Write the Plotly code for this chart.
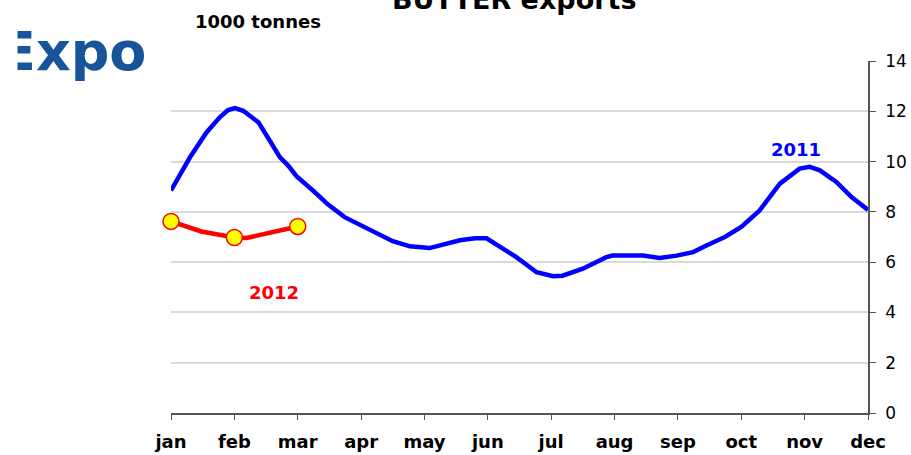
import plotly.graph_objects as go

# Month axis
months = ["jan", "feb", "mar", "apr", "may", "jun",
          "jul", "aug", "sep", "oct", "nov", "dec"]

# 2011 butter exports (1000 tonnes), sampled along the year (position in months from jan)
pos_2011 = [0.00, 0.30, 0.56, 0.77, 0.90, 1.01, 1.14, 1.38, 1.56, 1.72, 1.85, 1.98,
            2.24, 2.48, 2.74, 3.00, 3.27, 3.50, 3.77, 4.08, 4.56, 4.80, 4.98, 5.08,
            5.45, 5.77, 6.03, 6.18, 6.50, 6.87, 6.97, 7.45, 7.71, 7.98, 8.24, 8.45,
            8.74, 9.00, 9.29, 9.61, 9.76, 9.92, 10.08, 10.24, 10.50, 10.74, 11.00]
val_2011 = [8.85, 10.17, 11.16, 11.76, 12.05, 12.13, 12.02, 11.56, 10.83, 10.17, 9.84, 9.42,
            8.85, 8.29, 7.79, 7.46, 7.16, 6.83, 6.63, 6.56, 6.87, 6.95, 6.95, 6.80,
            6.20, 5.60, 5.44, 5.46, 5.74, 6.20, 6.26, 6.26, 6.17, 6.26, 6.40, 6.66,
            7.00, 7.40, 8.06, 9.12, 9.39, 9.72, 9.79, 9.65, 9.19, 8.59, 8.08]

# 2012 so far
pos_2012 = [0.00, 0.48, 1.00, 1.19, 2.00]
val_2012 = [7.62, 7.22, 6.98, 6.96, 7.42]
month_pos_2012 = [0, 1, 2]
month_val_2012 = [7.62, 6.98, 7.42]

W, H = 911, 455
L, R, T, B = 171, 43, 61, 42
PW, PH = W - L - R, H - T - B


def px(x):
    return (x - L) / PW


def py(y):
    return (H - B - y) / PH


fig = go.Figure()

fig.add_trace(go.Scatter(
    x=pos_2011, y=val_2011, mode="lines",
    line=dict(color="#0000ff", width=4.5), name="2011",
))
fig.add_trace(go.Scatter(
    x=pos_2012, y=val_2012, mode="lines",
    line=dict(color="#ff0000", width=4.5), name="2012",
))
fig.add_trace(go.Scatter(
    x=month_pos_2012, y=month_val_2012, mode="markers", cliponaxis=False,
    marker=dict(color="#ffff00", size=16, line=dict(color="#ff0000", width=1.5)),
    name="2012 monthly",
))

bold = "DejaVu Sans"

annotations = [
    # logo
    dict(text="<b>Expo</b>", x=px(-3), y=py(52), xanchor="left", yanchor="middle",
         font=dict(family=bold, size=54, color="#17549a")),
    dict(text=" ", x=px(0), y=py(50), xanchor="left", yanchor="middle",
         width=16, height=70, bgcolor="#ffffff", borderpad=0),
    # title
    dict(text="<b>BUTTER exports</b>", x=px(514), y=py(-1), xanchor="center", yanchor="middle",
         font=dict(family=bold, size=27, color="#000000")),
    dict(text="<b>1000 tonnes</b>", x=px(258), y=py(21), xanchor="center", yanchor="middle",
         font=dict(family=bold, size=18, color="#000000")),
    dict(text="<b>2011</b>", x=px(796), y=py(149), xanchor="center", yanchor="middle",
         font=dict(family=bold, size=18, color="#0000ff")),
    dict(text="<b>2012</b>", x=px(274), y=py(292), xanchor="center", yanchor="middle",
         font=dict(family=bold, size=18, color="#ff0000")),
]
for a in annotations:
    a.update(xref="paper", yref="paper", showarrow=False)

fig.update_layout(
    width=W, height=H,
    margin=dict(l=L, r=R, t=T, b=B, pad=0, autoexpand=False),
    paper_bgcolor="#ffffff", plot_bgcolor="#ffffff",
    showlegend=False,
    annotations=annotations,
    xaxis=dict(
        range=[0, 11], tickmode="array", tickvals=list(range(12)), ticktext=months,
        showgrid=False, zeroline=False, showline=True, linecolor="#555555", linewidth=1.5,
        ticks="outside", ticklen=5, tickwidth=1, tickcolor="#555555",
        ticklabelstandoff=7, automargin=False,
        tickfont=dict(family=bold, size=18, color="#000000", weight="bold"),
    ),
    yaxis=dict(
        range=[0, 14], dtick=2, side="right",
        showgrid=True, gridcolor="#d9d9d9", gridwidth=1.5, zeroline=False,
        showline=True, linecolor="#555555", linewidth=1.5,
        ticks="outside", ticklen=6, tickwidth=1, tickcolor="#555555",
        ticklabelstandoff=6, automargin=False,
        tickfont=dict(family="DejaVu Sans", size=17, color="#000000"),
    ),
)

fig.write_html("out.html")
